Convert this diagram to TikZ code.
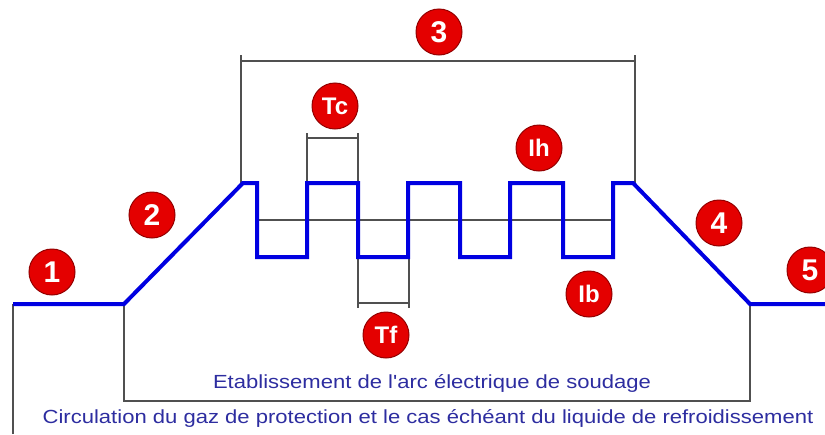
\documentclass[tikz,border=0pt]{standalone}
\usepackage{fontspec}
\setmainfont{Liberation Sans}
\usepackage{tikz}
\usepackage{xcolor}
\definecolor{wave}{RGB}{0,0,225}
\definecolor{dimgray}{RGB}{80,80,80}
\definecolor{badgered}{RGB}{228,0,0}
\definecolor{captionblue}{RGB}{45,45,160}
\tikzset{
  badge/.style={circle,fill=badgered,draw=badgered!65!black,line width=1pt,text=white,
    minimum size=46pt,inner sep=0pt,font=\bfseries\fontsize{30}{30}\selectfont},
  smallbadge/.style={badge,font=\bfseries\fontsize{24}{24}\selectfont},
  dimline/.style={dimgray,line width=1.6pt},
  caption/.style={text=captionblue,inner sep=0pt,xscale=1.16,font=\fontsize{19}{19}\selectfont}
}

\begin{document}
\begin{tikzpicture}[x=1pt,y=-1pt]
\useasboundingbox (0,0) rectangle (825,434);
% dimension lines
\draw[dimline] (13,434) -- (13,304);
\draw[dimline] (124,304) -- (124,401) -- (750,401) -- (750,304);
\draw[dimline] (241,183) -- (241,55);
\draw[dimline] (635,183) -- (635,55);
\draw[dimline] (241,61) -- (635,61);
\draw[dimline] (307,183) -- (307,133);
\draw[dimline] (358,183) -- (358,133);
\draw[dimline] (307,138) -- (358,138);
\draw[dimline] (358,257) -- (358,308);
\draw[dimline] (409,257) -- (409,308);
\draw[dimline] (358,303) -- (409,303);
\draw[dimline] (257,220) -- (613,220);
% current
\draw[wave,line width=4pt] (13,304) -- (124,304) -- (243,183)
  foreach \x in {257,358,460,563} { -- (\x,183) -- (\x,257) -- ({\x+50},257) -- ({\x+50},183) }
  -- (633,183) -- (750,304) -- (825,304);
% phases
\node[badge] (n1) at (52,272) {1};
\node[badge] (n2) at (152,215) {2};
\node[badge] (n3) at (439,32) {3};
\node[badge] (n4) at (719,223) {4};
\node[badge] (n5) at (810,270) {5};
\node[smallbadge] (tc) at (335,106) {Tc};
\node[smallbadge] (ih) at (539,148) {Ih};
\node[smallbadge] (tf) at (386,335) {Tf};
\node[smallbadge] (ib) at (589,294) {Ib};
% captions
\node[caption] (arc) at (432,383) {Etablissement de l\textquotesingle arc électrique de soudage};
\node[caption] (gaz) at (428,418) {Circulation du gaz de protection et le cas échéant du liquide de refroidissement};
\end{tikzpicture}
\end{document}
